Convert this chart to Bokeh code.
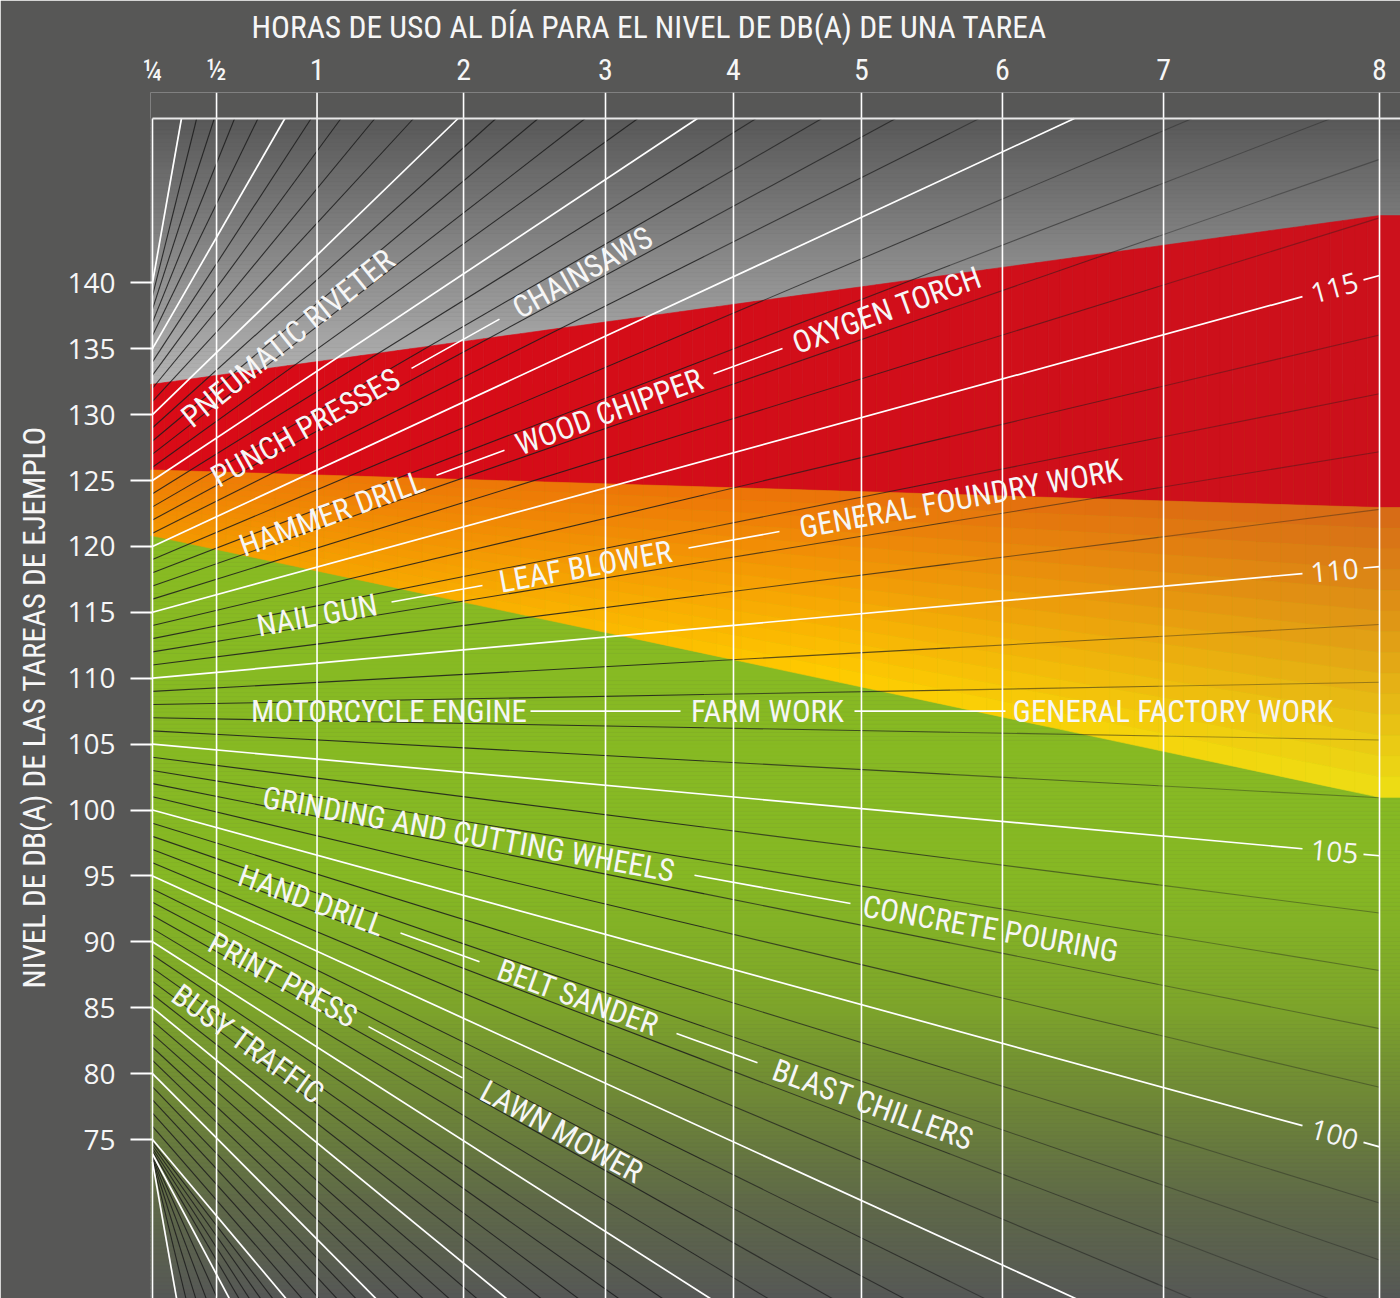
import numpy as np
from bokeh.plotting import figure
from bokeh.models import Range1d, FixedTicker, ColumnDataSource, Title
from bokeh.core.properties import value
from bokeh.embed import file_html
from bokeh.resources import INLINE

# ---------------- values ----------------
hour_labels = ["¼", "½", "1", "2", "3", "4", "5", "6", "7", "8"]
# position of each hour line along the nomogram's horizontal scale (0 = ¼ h, 1 = 8 h)
hour_scale_pos = [0.0, 0.0522, 0.1341, 0.2535, 0.3692, 0.4735, 0.5778, 0.6927, 0.8240, 1.0]

db_ticks = [140, 135, 130, 125, 120, 115, 110, 105, 100, 95, 90, 85, 80, 75]

# fan of dB lines: value, where it meets the left scale, and its direction (deg, + = falling)
fan_anchor_db = [140, 135, 130, 125, 120, 115, 110, 105, 100, 95, 90, 85, 80, 75, 70, 65]
fan_anchor_left = [140, 135, 130, 125, 120, 115, 110, 105, 100, 95, 90, 85, 80, 75, 73.9, 73.3]
fan_anchor_angle = [-80, -60.1, -44.1, -33.6, -24.9, -15.35, -5.2, 5.2, 15.35, 24.6,
                    32.6, 39.4, 45.2, 50, 62, 80]

right_scale_db = [115, 110, 105, 100]

# risk zones: boundary level at ¼ h (left) and at 8 h (right)
zone_edge_left = [132.3, 125.8, 120.8]
zone_edge_right = [145.1, 122.95, 100.96]

task_levels = [127.5, 122.5, 117.5, 112.5, 107.5, 102.5, 97.5, 92.5, 87.5]
task_names = [
    ["PNEUMATIC RIVETER"],
    ["PUNCH PRESSES", "CHAINSAWS"],
    ["HAMMER DRILL", "WOOD CHIPPER", "OXYGEN TORCH"],
    ["NAIL GUN", "LEAF BLOWER", "GENERAL FOUNDRY WORK"],
    ["MOTORCYCLE ENGINE", "FARM WORK", "GENERAL FACTORY WORK"],
    ["GRINDING AND CUTTING WHEELS", "CONCRETE POURING"],
    ["HAND DRILL", "BELT SANDER", "BLAST CHILLERS"],
    ["PRINT PRESS", "LAWN MOWER"],
    ["BUSY TRAFFIC"],
]

title_text = "HORAS DE USO AL DÍA PARA EL NIVEL DE DB(A) DE UNA TAREA"
ylabel_text = "NIVEL DE DB(A) DE LAS TAREAS DE EJEMPLO"

# ---------------- layout / style ----------------
W, H = 1400, 1298
REF_X0, REF_PX_PER_U = 152.0, 1227.0
REF_Y140, REF_PX_PER_DB = 282.3, 13.18
K = REF_PX_PER_U / REF_PX_PER_DB


def u_of(xref):
    return (xref - REF_X0) / REF_PX_PER_U


def db_of(yref):
    return 140 + (REF_Y140 - yref) / REF_PX_PER_DB


U_MIN, U_MAX = u_of(150), u_of(1400)
DB_FRAME_TOP, DB_BOTTOM = db_of(92), db_of(1298)
TOP_DB = db_of(118)

LABEL_SPAN_PX = [
    [(175, 400)],
    [(207, 403), (507, 657)],
    [(235, 428), (512, 705), (790, 983)],
    [(250, 383), (490, 680), (787, 1133)],
    [(255, 522), (688, 846), (1013, 1332)],
    [(250, 686), (858, 1122)],
    [(230, 392), (487, 668), (765, 980)],
    [(205, 360), (470, 652)],
    [(170, 325)],
]
LEADER_PAD = 8
RIGHT_LABEL_X, RIGHT_GAP = 1334, (1302, 1363)

BG = "#575756"
COND = "'Liberation Sans Narrow', 'Roboto Condensed', 'DejaVu Sans Condensed', 'Open Sans', sans-serif"
REG = "Open Sans"
TXT = "#f6f6f6"

GREY_STOPS = ([132.2, TOP_DB], [(181, 181, 181), (88, 88, 88)])
GREEN_STOPS = ([DB_BOTTOM, 70.3, 77.9, 85.5, 94.6, 132.3],
               [(86, 88, 86), (95, 105, 72), (110, 135, 55), (126, 166, 42), (134, 184, 36), (137, 188, 34)])


def mix(xs, cs, x):
    c = [np.interp(x, xs, [cc[i] for cc in cs]) for i in range(3)]
    return "#%02x%02x%02x" % tuple(int(round(v)) for v in c)


def lerp3(a, b, t):
    return tuple(a[i] + (b[i] - a[i]) * t for i in range(3))


adb = np.array(fan_anchor_db[::-1], float)
aleft = np.array(fan_anchor_left[::-1], float)
aang = np.array(fan_anchor_angle[::-1], float)


def fan_line(v):
    left = float(np.interp(v, adb, aleft))
    ang = float(np.interp(v, adb, aang))
    slope = -np.tan(np.radians(ang)) * K
    return left, slope, ang


def line_end(left, slope):
    if slope > 0:
        return min(1.0, (TOP_DB - left) / slope)
    return 1.0


def edge(i, u):
    uu = min(u, 1.0)
    return zone_edge_left[i] + (zone_edge_right[i] - zone_edge_left[i]) * uu


p = figure(width=W, height=H, x_range=Range1d(U_MIN, U_MAX), y_range=Range1d(DB_BOTTOM, DB_FRAME_TOP),
           x_axis_location="above", output_backend="svg", toolbar_location=None,
           min_border_left=150, min_border_top=92,
           min_border_right=0, min_border_bottom=0,
           background_fill_color=BG, border_fill_color=BG, outline_line_color=None,
           title=title_text)
p.xgrid.visible = False
p.ygrid.visible = False

# --- background gradients (grey top, green bottom) ---
strips = dict(l=[], r=[], b=[], t=[], c=[])
step = 0.3
y = TOP_DB
while True:
    y0 = max(y - step, 132.0)
    strips["l"].append(U_MIN); strips["r"].append(U_MAX)
    strips["t"].append(y); strips["b"].append(y0)
    strips["c"].append(mix(*GREY_STOPS, (y + y0) / 2))
    y = y0
    if y0 <= 132.0:
        break
y = 132.3
while y > DB_BOTTOM:
    y0 = y - step
    strips["l"].append(U_MIN); strips["r"].append(U_MAX)
    strips["t"].append(y); strips["b"].append(y0)
    strips["c"].append(mix(*GREEN_STOPS, (y + y0) / 2))
    y = y0
p.quad(left="l", right="r", bottom="b", top="t", fill_color="c", line_color="c", line_width=0.6,
       source=ColumnDataSource(strips))

# --- red zone ---
ubreaks = [U_MIN] + list(np.round(np.arange(0, 1.0001, 0.01), 4)) + [U_MAX]
red = dict(xs=[], ys=[], c=[])
RED_L, RED_R = (218, 11, 23), (204, 17, 28)
for u0, u1 in zip(ubreaks[:-1], ubreaks[1:]):
    red["xs"].append([u0, u1, u1, u0])
    red["ys"].append([edge(0, u0), edge(0, u1), edge(1, u1), edge(1, u0)])
    c = lerp3(RED_L, RED_R, min(1, max(0, (u0 + u1) / 2)))
    red["c"].append("#%02x%02x%02x" % tuple(int(v) for v in c))
p.patches(xs="xs", ys="ys", fill_color="c", line_color="c", line_width=0.6, source=ColumnDataSource(red))

# --- orange / yellow zone ---
ORG_TOP = ([0, 0.5, 1], [(238, 122, 6), (236, 114, 8), (214, 104, 22)])
ORG_BOT = ([0, 0.55, 1], [(244, 150, 0), (255, 205, 0), (238, 224, 20)])
ob = [U_MIN] + list(np.round(np.arange(0, 1.0001, 0.02), 4)) + [U_MAX]
tb = list(np.linspace(0, 1, 15))
org = dict(xs=[], ys=[], c=[])


def yy(u, t):
    return edge(1, u) + (edge(2, u) - edge(1, u)) * t


for u0, u1 in zip(ob[:-1], ob[1:]):
    s = min(1, max(0, (u0 + u1) / 2))
    ct = tuple(np.interp(s, ORG_TOP[0], [c[i] for c in ORG_TOP[1]]) for i in range(3))
    cb = tuple(np.interp(s, ORG_BOT[0], [c[i] for c in ORG_BOT[1]]) for i in range(3))
    for t0, t1 in zip(tb[:-1], tb[1:]):
        org["xs"].append([u0, u1, u1, u0])
        org["ys"].append([yy(u0, t0), yy(u1, t0), yy(u1, t1), yy(u0, t1)])
        c = lerp3(ct, cb, (t0 + t1) / 2)
        org["c"].append("#%02x%02x%02x" % tuple(int(round(v)) for v in c))
p.patches(xs="xs", ys="ys", fill_color="c", line_color="c", line_width=0.6, source=ColumnDataSource(org))

# --- fan lines ---
SEG_BREAKS = [0, 0.45, 0.65, 0.82, 1.0]
SEG_ALPHA = [0.85, 0.7, 0.52, 0.38]
blk = dict(xs=[], ys=[], a=[])
wht = dict(xs=[], ys=[])
for v in range(65, 141):
    left, slope, ang = fan_line(v)
    ue = line_end(left, slope)
    if v % 5 == 0:
        if v in right_scale_db:
            ga, gb = u_of(RIGHT_GAP[0]), u_of(RIGHT_GAP[1])
            wht["xs"] += [[0, ga], [gb, 1.0]]
            wht["ys"] += [[left, left + slope * ga], [left + slope * gb, left + slope]]
        else:
            wht["xs"].append([0, ue]); wht["ys"].append([left, left + slope * ue])
    else:
        for (s0, s1), a in zip(zip(SEG_BREAKS[:-1], SEG_BREAKS[1:]), SEG_ALPHA):
            if s0 >= ue:
                break
            s1 = min(s1, ue)
            blk["xs"].append([s0, s1]); blk["ys"].append([left + slope * s0, left + slope * s1])
            blk["a"].append(a)
p.multi_line(xs="xs", ys="ys", line_color="#1c1c1c", line_alpha="a", line_width=1.1,
             source=ColumnDataSource(blk))
p.multi_line(xs="xs", ys="ys", line_color="white", line_width=1.7, source=ColumnDataSource(wht))

# --- hour lines ---
hx = list(hour_scale_pos)
htop = [TOP_DB if h == 0 else DB_FRAME_TOP for h in hour_scale_pos]
p.segment(x0=hx, y0=[DB_BOTTOM] * len(hx), x1=hx, y1=htop, line_color="white", line_width=1.6)
p.segment(x0=[0], y0=[TOP_DB], x1=[U_MAX], y1=[TOP_DB], line_color="#e8e8e8", line_width=2.2)

# --- task leaders + labels ---
lead = dict(xs=[], ys=[])
lab = dict(x=[], y=[], text=[], angle=[])
for lvl, names, spans in zip(task_levels, task_names, LABEL_SPAN_PX):
    left, slope, ang = fan_line(lvl)
    for name, (x0, x1) in zip(names, spans):
        u = u_of((x0 + x1) / 2)
        lab["x"].append(u); lab["y"].append(left + slope * u)
        lab["text"].append(name); lab["angle"].append(-ang)
    for (a0, a1), (b0, b1) in zip(spans[:-1], spans[1:]):
        ua, ub = u_of(a1 + LEADER_PAD), u_of(b0 - LEADER_PAD)
        lead["xs"].append([ua, ub]); lead["ys"].append([left + slope * ua, left + slope * ub])
p.multi_line(xs="xs", ys="ys", line_color="white", line_width=1.6, source=ColumnDataSource(lead))
p.text(x="x", y="y", text="text", angle="angle", angle_units="deg", source=ColumnDataSource(lab),
       text_align="center", text_baseline="middle", text_color=TXT,
       text_font=value(COND), text_font_size=value("31px"))

# --- right-hand scale labels ---
rl = dict(x=[], y=[], text=[], angle=[])
for v in right_scale_db:
    left, slope, ang = fan_line(v)
    u = u_of(RIGHT_LABEL_X)
    rl["x"].append(u); rl["y"].append(left + slope * u); rl["text"].append(str(v)); rl["angle"].append(-ang)
p.text(x="x", y="y", text="text", angle="angle", angle_units="deg", source=ColumnDataSource(rl),
       text_align="center", text_baseline="middle", text_color=TXT,
       text_font=value(REG), text_font_size=value("28px"))

# --- axes ---
ax = p.xaxis[0]
ax.ticker = FixedTicker(ticks=hour_scale_pos)
ax.major_label_overrides = {float(h): l for h, l in zip(hour_scale_pos, hour_labels)}
ax.major_tick_out = 0
ax.major_tick_in = 0
ax.minor_tick_line_color = None
ax.axis_line_color = None
ax.major_label_standoff = 6
ax.major_label_text_font = COND
ax.major_label_text_font_size = "30px"
ax.major_label_text_color = TXT

ay = p.yaxis[0]
ay.ticker = FixedTicker(ticks=db_ticks)
ay.major_tick_out = 20
ay.major_tick_in = 2
ay.major_tick_line_color = "white"
ay.major_tick_line_width = 2
ay.minor_tick_line_color = None
ay.axis_line_color = None
ay.major_label_standoff = 15
ay.major_label_text_font = REG
ay.major_label_text_font_size = "28px"
ay.major_label_text_color = TXT

p.add_layout(Title(text=ylabel_text, align="left", offset=310, standoff=20, vertical_align="top",
                   text_font=COND, text_font_size="31px", text_font_style="normal",
                   text_color=TXT), "left")

p.title.align = "left"
p.title.offset = 101
p.title.text_font = COND
p.title.text_font_size = "31.5px"
p.title.text_font_style = "normal"
p.title.text_color = TXT
p.title.standoff = 6

open("out.html", "w").write(file_html(p, INLINE))
